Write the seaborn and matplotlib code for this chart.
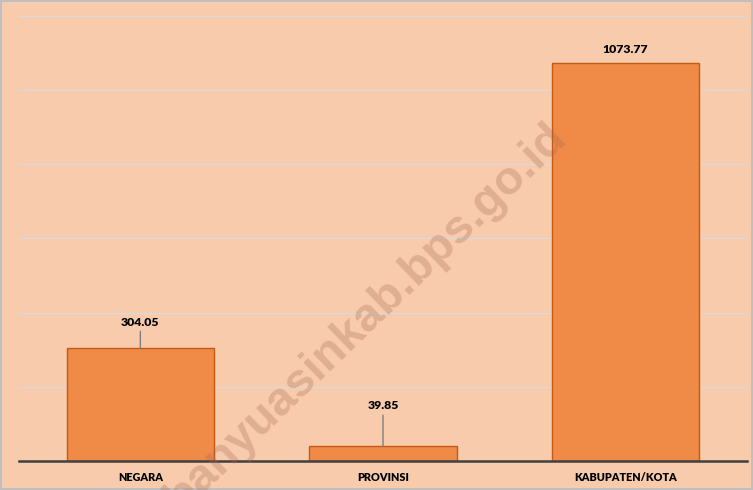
import numpy as np
import matplotlib
matplotlib.use('Agg')
import matplotlib.pyplot as plt
import seaborn as sns

categories = ['NEGARA', 'PROVINSI', 'KABUPATEN/KOTA']
values = [304.05, 39.85, 1073.77]
value_labels = ['304.05', '39.85', '1073.77']

BG = '#F8CBAD'
BAR = '#EF8A47'
EDGE = '#C55A11'


def draw():
    sns.set_style('white')
    plt.rcParams['font.family'] = ['Lato', 'DejaVu Sans']

    fig = plt.figure(figsize=(7.53, 4.90), dpi=100)
    fig.patch.set_facecolor(BG)
    fig.patch.set_edgecolor('#BFBFBF')
    fig.patch.set_linewidth(1.5)
    ax = fig.add_axes([19 / 753, 29 / 490, 728 / 753, 445 / 490])
    ax.set_facecolor(BG)

    sns.barplot(x=categories, y=values, color=BAR, saturation=1, width=0.606,
                edgecolor=EDGE, linewidth=1, ax=ax, zorder=3)

    ax.set_xlim(-0.5, 2.5)
    ax.set_ylim(0, 1200)
    ax.set_yticks(np.arange(200, 1201, 200))
    ax.set_yticklabels([])
    ax.tick_params(axis='y', length=0)
    ax.tick_params(axis='x', length=0, pad=8)
    ax.yaxis.grid(True, color='#DDD9D6', linewidth=1)
    ax.set_axisbelow(True)
    for s in ['top', 'right', 'left']:
        ax.spines[s].set_visible(False)
    ax.spines['bottom'].set_color('#404040')
    ax.spines['bottom'].set_linewidth(1.8)
    ax.spines['bottom'].set_zorder(4)
    for lbl in ax.get_xticklabels():
        lbl.set_fontweight('heavy')
        lbl.set_fontsize(7.8)
        lbl.set_color('black')

    # label offsets in pixels (text centre above bar top, leader length)
    offsets = [(26, 17), (41, 31), (13, 0)]
    for i, (v, txt) in enumerate(zip(values, value_labels)):
        dy, line = offsets[i]
        if line:
            ax.annotate('', xy=(i, v), xytext=(0, line), textcoords='offset pixels',
                        arrowprops=dict(arrowstyle='-', color='#7F7F7F', lw=1,
                                        shrinkA=0, shrinkB=0), zorder=5)
        ax.annotate(txt, xy=(i, v), xytext=(0, dy), textcoords='offset pixels',
                    ha='center', va='center', fontsize=8.8, fontweight='heavy',
                    color='black', zorder=5)

    # watermark, runs off the bottom edge like in the source image
    fig.text(0.486, 0.352, 'banyuasinkab.bps.go.id', rotation=44,
             ha='center', va='center', fontsize=34, fontweight='bold',
             family='Liberation Sans', color='#A86A50', alpha=0.3, zorder=10,
             rotation_mode='anchor')

    fig.savefig('out.png', dpi=100, facecolor=fig.get_facecolor(),
                edgecolor=fig.get_edgecolor())


if __name__ == '__main__':
    draw()
